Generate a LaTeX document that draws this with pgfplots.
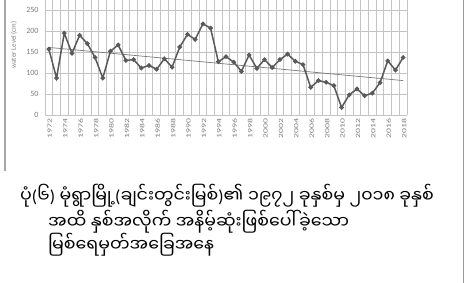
\documentclass[border=0pt]{standalone}
\usepackage{pgfplots}
\pgfplotsset{compat=1.18}
\usepackage{fontspec}
\setmainfont{Carlito}
\newfontfamily\mmfont[Script=Myanmar]{Noto Sans Myanmar UI}
\newcommand\lp{{\normalfont(}}
\newcommand\rp{{\normalfont)}}
\definecolor{lineg}{HTML}{5A5A5A}
\definecolor{gridg}{HTML}{C4C4C4}
\definecolor{trendg}{HTML}{7A7A7A}
\definecolor{textg}{HTML}{7F7F7F}
\newcommand\sx[1]{\scalebox{1.5}[1]{#1}}
\begin{document}
\begin{tikzpicture}[x=1pt,y=1pt]
\useasboundingbox (0,0) rectangle (471,283);
\fill[white] (0,0) rectangle (471,283);
\draw[gray!70, line width=1.5pt] (5,283) -- (5,112);
\draw[gray!80, line width=0.8pt] (463.5,283) -- (463.5,0);
\begin{axis}[
  at={(45pt,168pt)}, anchor=south west,
  scale only axis, width=362pt, height=115pt,
  xmin=1971.5, xmax=2018.5, ymin=0, ymax=274,
  xtick={1972,1974,...,2018},
  xticklabels={\sx{1972},\sx{1974},\sx{1976},\sx{1978},\sx{1980},\sx{1982},\sx{1984},\sx{1986},\sx{1988},\sx{1990},\sx{1992},\sx{1994},\sx{1996},\sx{1998},\sx{2000},\sx{2002},\sx{2004},\sx{2006},\sx{2008},\sx{2010},\sx{2012},\sx{2014},\sx{2016},\sx{2018}},
  minor xtick={1971.5,1972.5,...,2018.5},
  ytick={0,50,...,250},
  xmajorgrids=false, xminorgrids=true, ymajorgrids=true,
  minor x grid style={gridg, line width=0.9pt},
  major y grid style={gridg, line width=0.9pt},
  axis line style={draw=none},
  tick style={draw=none},
  xticklabel style={rotate=90, anchor=east, font=\fontsize{6.5}{7}\selectfont, text=textg, yshift=-1pt},
  yticklabel style={font=\fontsize{8}{9}\selectfont, text=textg, xshift=-3pt},
  /pgf/number format/assume math mode=true,
  ylabel={water Level (cm)},
  ylabel style={at={(axis description cs:-0.086,0.61)}, anchor=center, font=\fontsize{7}{8}\selectfont, text=textg},
  clip=false,
]
\addplot[trendg, line width=0.7pt] coordinates {(1972,161) (2018,82)};
\addplot[lineg, line width=1.5pt, mark=*, mark size=1.5pt, mark options={fill=lineg, draw=lineg}] coordinates {
(1972,157) (1973,88) (1974,195) (1975,147) (1976,190) (1977,170) (1978,137) (1979,88)
(1980,152) (1981,167) (1982,130) (1983,132) (1984,112) (1985,118) (1986,109) (1987,134)
(1988,114) (1989,162) (1990,192) (1991,180) (1992,217) (1993,207) (1994,127) (1995,139)
(1996,126) (1997,104) (1998,143) (1999,111) (2000,132) (2001,113) (2002,132) (2003,145)
(2004,128) (2005,120) (2006,66) (2007,82) (2008,78) (2009,70) (2010,18) (2011,48)
(2012,62) (2013,46) (2014,52) (2015,77) (2016,129) (2017,107) (2018,137)};
\end{axis}
\node[anchor=west, inner sep=0pt, font=\mmfont\fontsize{17.4}{20}\selectfont] at (20,87) {ပုံ\lp ၆\rp\ မုံရွာမြို့\lp ချင်းတွင်းမြစ်\rp ၏ ၁၉၇၂ ခုနှစ်မှ ၂၀၁၈ ခုနှစ်};
\node[anchor=west, inner sep=0pt, font=\mmfont\fontsize{17.4}{20}\selectfont] at (48,61) {အထိ နှစ်အလိုက် အနိမ့်ဆုံးဖြစ်ပေါ်ခဲ့သော};
\node[anchor=west, inner sep=0pt, font=\mmfont\fontsize{17.4}{20}\selectfont] at (48,38) {မြစ်ရေမှတ်အခြေအနေ};
\end{tikzpicture}
\end{document}
